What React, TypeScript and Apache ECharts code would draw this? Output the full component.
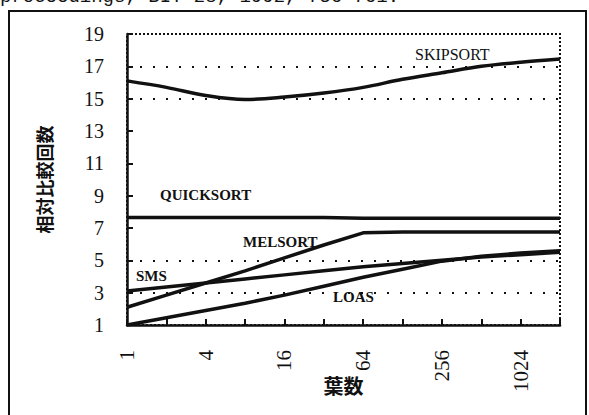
import React, { useEffect, useRef } from "react";
import * as echarts from "echarts";

const leaves = [1, 2, 4, 8, 16, 32, 64, 128, 256, 512, 1024, 2048];
const skipsort = [16.1, 15.7, 15.2, 14.95, 15.1, 15.35, 15.7, 16.2, 16.6, 17.0, 17.25, 17.45];
const quicksort = [7.65, 7.65, 7.65, 7.65, 7.65, 7.65, 7.6, 7.6, 7.6, 7.6, 7.6, 7.6];
const melsort = [2.1, 2.85, 3.6, 4.35, 5.15, 5.95, 6.7, 6.75, 6.75, 6.75, 6.75, 6.75];
const sms = [3.1, 3.35, 3.6, 3.85, 4.1, 4.35, 4.6, 4.8, 5.0, 5.2, 5.35, 5.5];
const loas = [1.0, 1.45, 1.9, 2.35, 2.85, 3.4, 3.95, 4.45, 4.95, 5.25, 5.45, 5.6];
const gridValues = [3, 5, 15, 17];
const seriesNames = ["SKIPSORT", "QUICKSORT", "MELSORT", "SMS", "LOAS"];
const yTitle = "相対比較回数";
const xTitle = "葉数";
const headerText = "proceedings, BIT 28, 1992, 736-761.";

const INK = "#111";

export default function App() {
  const ref = useRef<HTMLDivElement>(null);
  useEffect(() => {
    const chart = echarts.init(ref.current!, null, { renderer: "svg" });
    const pts = (vals: number[]) => leaves.map((x, i) => [x, vals[i]]);
    const lineSeries = (name: string, vals: number[], smooth: number | boolean, extra: any = {}) => ({
      name,
      type: "line",
      data: pts(vals),
      smooth,
      symbol: "none",
      lineStyle: { color: INK, width: 3.5 },
      z: 3,
      ...extra,
    });
    chart.setOption({
      animation: false,
      backgroundColor: "#fff",
      grid: {
        left: 127,
        right: 29,
        top: 34,
        bottom: 90,
        show: true,
        borderColor: INK,
        borderWidth: 2,
        borderType: [2, 2],
      },
      xAxis: {
        type: "log",
        logBase: 2,
        min: 1,
        max: 2048,
        interval: 1,
        axisLine: { show: true, lineStyle: { color: INK, width: 2.5 } },
        axisTick: { show: true, inside: true, length: 6, lineStyle: { color: INK, width: 2 } },
        splitLine: { show: false },
        minorTick: { show: false },
        axisLabel: {
          rotate: 90,
          margin: 25,
          color: INK,
          fontFamily: "Liberation Serif",
          fontSize: 21,
          showMinLabel: true,
          showMaxLabel: true,
          formatter: (v: number) => {
            const e = Math.round(Math.log2(v));
            return e % 2 === 0 && e <= 10 ? String(Math.round(Math.pow(2, e))) : "";
          },
        },
        name: xTitle,
        nameLocation: "middle",
        nameGap: 50,
        nameMoveOverlap: false,
        nameTextStyle: { fontFamily: "Noto Sans CJK JP", fontWeight: "bold", fontSize: 20, color: INK },
      },
      yAxis: {
        type: "value",
        min: 1,
        max: 19,
        interval: 2,
        axisLine: { show: true, lineStyle: { color: INK, width: 2.5 } },
        axisTick: { show: true, inside: true, length: 6, lineStyle: { color: INK, width: 2 } },
        splitLine: { show: false },
        axisLabel: {
          margin: 23,
          color: INK,
          fontFamily: "Liberation Serif",
          fontSize: 20,
        },
        name: yTitle,
        nameLocation: "middle",
        nameRotate: 90,
        nameGap: 74,
        nameMoveOverlap: false,
        nameTextStyle: { fontFamily: "Noto Sans CJK JP", fontWeight: "bold", fontSize: 18, color: INK },
      },
      series: [
        lineSeries(seriesNames[0], skipsort, 0.35),
        lineSeries(seriesNames[1], quicksort, false, {
          markLine: {
            silent: true,
            symbol: "none",
            label: { show: false },
            lineStyle: { color: INK, type: [2, 11], width: 1.8 },
            data: gridValues.map((v) => ({ yAxis: v })),
            z: 1,
          },
        }),
        lineSeries(seriesNames[2], melsort, false),
        lineSeries(seriesNames[3], sms, false),
        lineSeries(seriesNames[4], loas, false),
      ],
      graphic: [
        {
          type: "rect",
          shape: { x: 9, y: 11, width: 577, height: 420 },
          style: { fill: "none", stroke: INK, lineWidth: 2 },
          silent: true,
        },
        {
          type: "text",
          x: 0,
          y: 6,
          style: {
            text: headerText,
            font: "19px 'Liberation Mono'",
            fill: INK,
            textVerticalAlign: "bottom",
          },
        },
        {
          type: "text",
          x: 415,
          y: 54,
          style: { text: seriesNames[0], font: "16px 'Liberation Serif'", fill: INK, textVerticalAlign: "middle" },
        },
        {
          type: "text",
          x: 160,
          y: 195,
          style: { text: seriesNames[1], font: "bold 15px 'Liberation Serif'", fill: INK, textVerticalAlign: "middle" },
        },
        {
          type: "text",
          x: 243,
          y: 242,
          style: { text: seriesNames[2], font: "bold 15px 'Liberation Serif'", fill: INK, textVerticalAlign: "middle" },
        },
        {
          type: "text",
          x: 136,
          y: 276,
          style: { text: seriesNames[3], font: "bold 15px 'Liberation Serif'", fill: INK, textVerticalAlign: "middle" },
        },
        {
          type: "text",
          x: 333,
          y: 297,
          style: { text: seriesNames[4], font: "bold 15px 'Liberation Serif'", fill: INK, textVerticalAlign: "middle" },
        },
      ],
    });
    return () => chart.dispose();
  }, []);
  return (
    <div
      ref={ref}
      style={{ position: "fixed", left: 0, top: 0, width: 589, height: 415, background: "#fff" }}
    />
  );
}
